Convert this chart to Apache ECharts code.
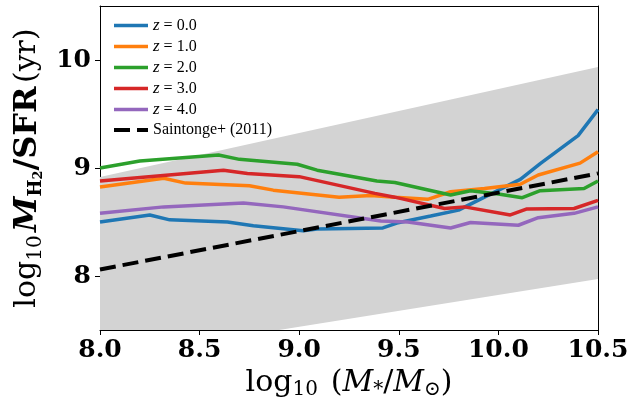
<!DOCTYPE html>
<html>
<head>
<meta charset="utf-8">
<script src="https://cdn.jsdelivr.net/npm/echarts@6/dist/echarts.min.js"></script>
<style>
  html, body { margin: 0; padding: 0; background: #fff; }
  #chart { width: 633px; height: 406px; }
</style>
</head>
<body>
<div id="chart"></div>
<script>
// 各红移的 log10(M*) 与 log10(t_dep)
const massZ0 = [8.0, 8.25, 8.35, 8.64, 8.77, 9.02, 9.09, 9.42, 9.49, 9.66, 9.80, 9.93, 10.11, 10.21, 10.40, 10.5];
const tdepZ0 = [8.50, 8.565, 8.52, 8.50, 8.465, 8.42, 8.435, 8.445, 8.49, 8.555, 8.61, 8.73, 8.895, 9.04, 9.30, 9.54];
const massZ1 = [8.0, 8.32, 8.43, 8.75, 8.87, 9.20, 9.36, 9.48, 9.645, 9.76, 9.93, 10.11, 10.20, 10.41, 10.5];
const tdepZ1 = [8.825, 8.905, 8.86, 8.835, 8.795, 8.73, 8.745, 8.73, 8.71, 8.78, 8.81, 8.85, 8.935, 9.045, 9.15];
const massZ2 = [8.0, 8.20, 8.595, 8.70, 8.99, 9.09, 9.39, 9.48, 9.76, 9.86, 10.0, 10.12, 10.21, 10.43, 10.5];
const tdepZ2 = [9.0, 9.065, 9.12, 9.08, 9.035, 8.98, 8.88, 8.865, 8.75, 8.79, 8.76, 8.725, 8.79, 8.81, 8.88];
const massZ3 = [8.0, 8.62, 8.74, 9.0, 9.38, 9.48, 9.73, 9.83, 10.06, 10.14, 10.38, 10.5];
const tdepZ3 = [8.88, 8.98, 8.95, 8.92, 8.765, 8.73, 8.625, 8.64, 8.565, 8.62, 8.625, 8.70];
const massZ4 = [8.0, 8.32, 8.72, 8.92, 9.41, 9.545, 9.76, 9.86, 10.10, 10.20, 10.38, 10.5];
const tdepZ4 = [8.58, 8.64, 8.675, 8.64, 8.51, 8.50, 8.445, 8.495, 8.47, 8.54, 8.58, 8.64];

// Saintonge+ (2011) 关系及灰色范围
const saintongeMass = [8.0, 10.5];
const saintongeTdep = [8.06, 8.95];
const bandLow = [7.235, 7.972];
const bandHigh = [8.917, 9.935];

const zNames = ['z = 0.0', 'z = 1.0', 'z = 2.0', 'z = 3.0', 'z = 4.0'];
const zColors = ['#1f77b4', '#ff7f0e', '#2ca02c', '#d62728', '#9467bd'];
const zMass = [massZ0, massZ1, massZ2, massZ3, massZ4];
const zTdep = [tdepZ0, tdepZ1, tdepZ2, tdepZ3, tdepZ4];

const xTicks = [8.0, 8.5, 9.0, 9.5, 10.0, 10.5];
const yTicks = [8, 9, 10];

const pair = (xs, ys) => xs.map((x, i) => [x, ys[i]]);

const tickFont = { fontFamily: 'DejaVu Serif', fontWeight: 'bold', fontSize: 25, color: '#000' };
const dash = [16, 7];

const series = [{
    type: 'custom',
    silent: true,
    clip: true,
    z: 1,
    data: [0],
    renderItem: (params, api) => {
        const top = saintongeMass.map((m, i) => api.coord([m, bandHigh[i]]));
        const bottom = saintongeMass.map((m, i) => api.coord([m, bandLow[i]])).reverse();
        return {
            type: 'polygon',
            shape: { points: top.concat(bottom) },
            style: { fill: '#d3d3d3' }
        };
    }
}];

zNames.forEach((name, k) => {
    series.push({
        name: name,
        type: 'line',
        data: pair(zMass[k], zTdep[k]),
        symbol: 'none',
        z: 3,
        lineStyle: { color: zColors[k], width: 3.5 },
        itemStyle: { color: zColors[k] }
    });
});

series.push({
    name: 'Saintonge+ (2011)',
    type: 'line',
    data: pair(saintongeMass, saintongeTdep),
    symbol: 'none',
    z: 4,
    lineStyle: { color: '#000', width: 4, type: dash },
    itemStyle: { color: '#000' }
});

const chart = echarts.init(document.getElementById('chart'));
chart.setOption({
    animation: false,
    backgroundColor: '#fff',
    grid: { left: 100, right: 35, top: 6, bottom: 76 },
    legend: {
        data: zNames.map((n, k) => ({ name: n, lineStyle: { width: 3.5, color: zColors[k] } })).concat([
            { name: 'Saintonge+ (2011)', lineStyle: { type: dash, width: 4, color: '#000' } }
        ]),
        orient: 'vertical',
        left: 107,
        top: 12,
        itemWidth: 34,
        itemHeight: 14,
        itemGap: 4,
        itemStyle: { color: 'transparent', borderWidth: 0, opacity: 0 },
        formatter: (name) => name.startsWith('z') ? '{i|z} = ' + name.slice(4) : name,
        textStyle: {
            fontFamily: 'Liberation Serif', fontSize: 16, color: '#000',
            rich: { i: { fontFamily: 'Liberation Serif', fontStyle: 'italic', fontSize: 17, color: '#000' } }
        }
    },
    xAxis: [{
        type: 'value',
        min: 8, max: 10.5, interval: 0.5,
        axisLine: { show: true, onZero: false, lineStyle: { color: '#000', width: 1 } },
        axisTick: { show: true, length: 5, lineStyle: { color: '#000' } },
        axisLabel: Object.assign({ margin: 8, formatter: (v) => v.toFixed(1), customValues: xTicks }, tickFont),
        splitLine: { show: false },
        name: '{r|log}{sub|10} {r| (}{i|M}{sub|*}{r|/}{i|M}{sub|⊙}{r|)}',
        nameLocation: 'middle',
        nameGap: 33,
        nameTextStyle: {
            rich: {
                r: { fontFamily: 'DejaVu Serif', fontSize: 30, color: '#000', lineHeight: 34 },
                i: { fontFamily: 'DejaVu Serif', fontStyle: 'italic', fontSize: 30, color: '#000', lineHeight: 34 },
                sub: { fontFamily: 'DejaVu Serif', fontSize: 20, color: '#000', lineHeight: 22, verticalAlign: 'bottom' }
            }
        }
    }, {
        type: 'value', position: 'top',
        min: 8, max: 10.5,
        axisLine: { show: true, onZero: false, lineStyle: { color: '#000', width: 1 } },
        axisTick: { show: false }, axisLabel: { show: false }, splitLine: { show: false }
    }],
    yAxis: [{
        type: 'value',
        min: 7.5, max: 10.5,
        axisLine: { show: true, onZero: false, lineStyle: { color: '#000', width: 1 } },
        axisTick: { show: true, length: 5, customValues: yTicks, lineStyle: { color: '#000' } },
        axisLabel: Object.assign({ margin: 9, customValues: yTicks }, tickFont),
        splitLine: { show: false },
        name: '{r|log}{sub|10} {b|M}{sub2|H}{sub3|2}{b2|/SFR} {r|(yr)}',
        nameLocation: 'middle',
        nameGap: 50,
        nameTextStyle: {
            rich: {
                r: { fontFamily: 'DejaVu Serif', fontSize: 30, color: '#000', lineHeight: 36 },
                sub: { fontFamily: 'DejaVu Serif', fontSize: 20, color: '#000', lineHeight: 24, verticalAlign: 'bottom' },
                b: { fontFamily: 'DejaVu Serif', fontStyle: 'italic', fontWeight: 'bold', fontSize: 32, color: '#000', lineHeight: 36 },
                sub2: { fontFamily: 'DejaVu Serif', fontWeight: 'bold', fontSize: 18, color: '#000', lineHeight: 24, verticalAlign: 'bottom' },
                sub3: { fontFamily: 'DejaVu Serif', fontWeight: 'bold', fontSize: 13, color: '#000', lineHeight: 17, verticalAlign: 'bottom' },
                b2: { fontFamily: 'DejaVu Serif', fontWeight: 'bold', fontSize: 32, color: '#000', lineHeight: 36 }
            }
        }
    }, {
        type: 'value', position: 'right',
        min: 7.5, max: 10.5,
        axisLine: { show: true, onZero: false, lineStyle: { color: '#000', width: 1 } },
        axisTick: { show: false }, axisLabel: { show: false }, splitLine: { show: false }
    }],
    series: series
});
</script>
</body>
</html>
